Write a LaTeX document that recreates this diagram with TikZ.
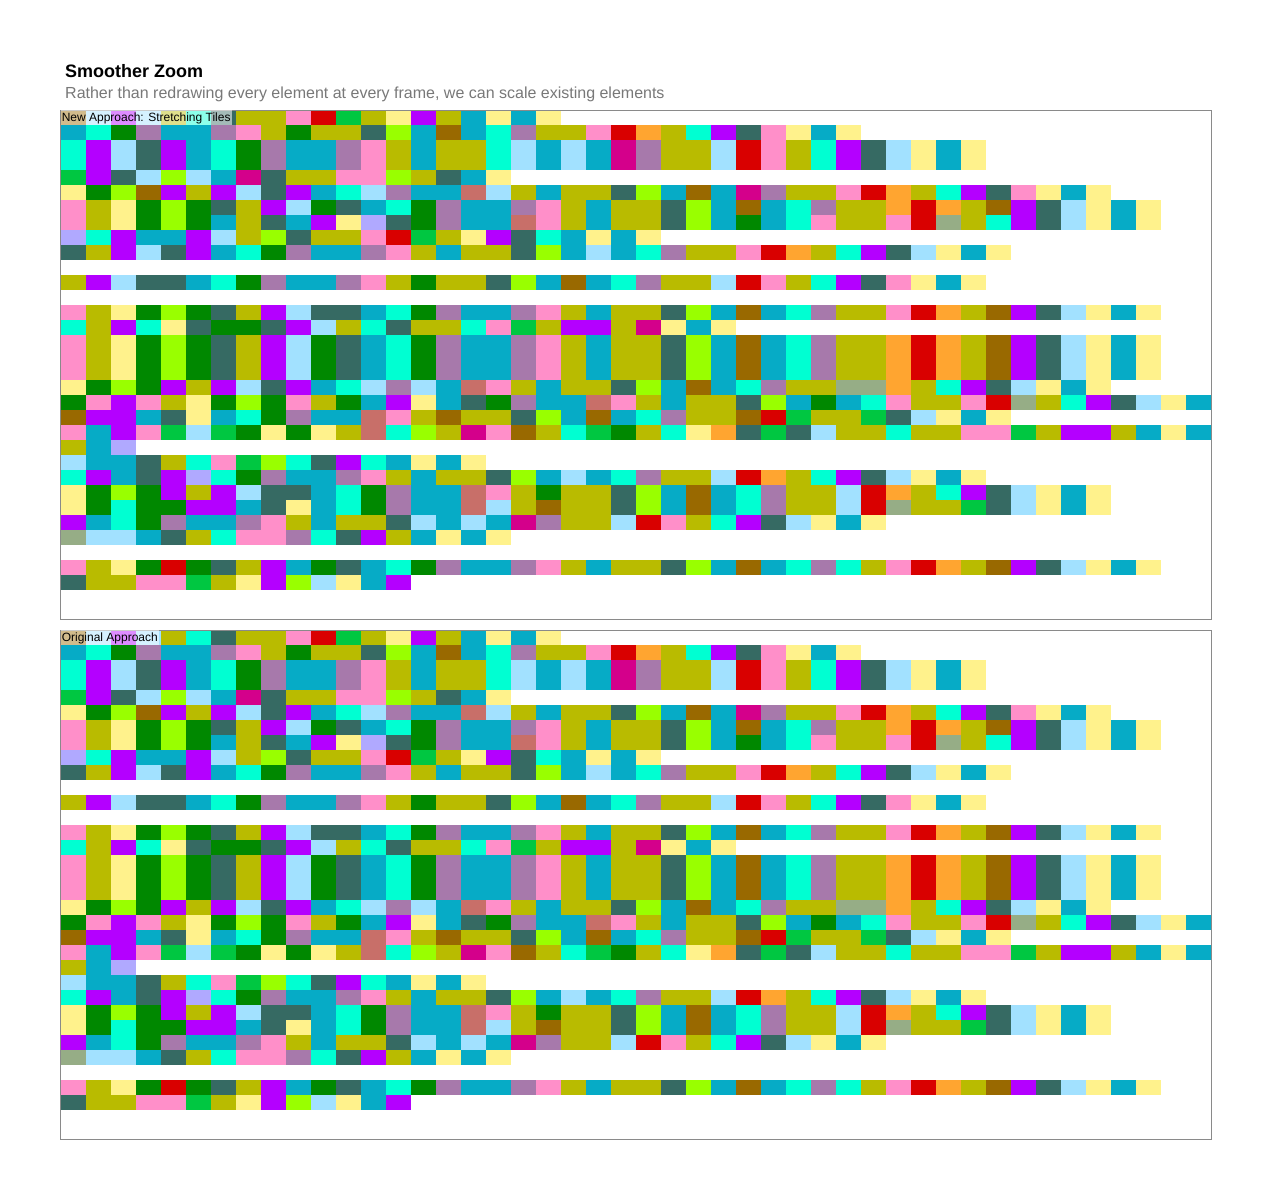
\documentclass[tikz,border=0pt]{standalone}
\usepackage{fontspec}
\setmainfont{Liberation Sans}
\definecolor{tb}{HTML}{B9BB00}
\definecolor{tc}{HTML}{06ABC6}
\definecolor{tt}{HTML}{00FFD2}
\definecolor{tg}{HTML}{008800}
\definecolor{tp}{HTML}{B400FF}
\definecolor{tl}{HTML}{A2E1FF}
\definecolor{ts}{HTML}{366A63}
\definecolor{tm}{HTML}{A779AB}
\definecolor{tk}{HTML}{FF8FC9}
\definecolor{ty}{HTML}{FFF28C}
\definecolor{tr}{HTML}{D90000}
\definecolor{te}{HTML}{00C741}
\definecolor{th}{HTML}{99FF00}
\definecolor{tn}{HTML}{996900}
\definecolor{to}{HTML}{FFA530}
\definecolor{td}{HTML}{D4008B}
\definecolor{tv}{HTML}{B0A9FF}
\definecolor{tw}{HTML}{C86F69}
\definecolor{tx}{HTML}{96AD86}
\definecolor{framegray}{HTML}{8A8A8A}
\definecolor{subgray}{HTML}{787878}
\newcommand\tilerow[2]{\foreach \cc [count=\ii from 0] in {#2} {\fill[t\cc] ({61+25*\ii},{110+15*#1}) rectangle ++(25.4,15.4);}}
\newcommand\mosaic{%
\tilerow{0}{n,l,p,l,b,t,s,b,b,k,r,e,b,y,p,b,c,y,c,y}
\tilerow{1}{c,t,g,m,c,c,m,k,b,g,b,b,s,h,c,n,c,t,m,b,b,k,r,o,b,t,p,s,k,y,c,y}
\tilerow{2}{t,p,l,s,p,c,t,g,m,c,c,m,k,b,c,b,b,t,l,c,l,c,d,m,b,b,l,r,k,b,t,p,s,l,y,c,y}
\tilerow{3}{t,p,l,s,p,c,t,g,m,c,c,m,k,b,c,b,b,t,l,c,l,c,d,m,b,b,l,r,k,b,t,p,s,l,y,c,y}
\tilerow{4}{e,p,s,l,h,l,c,d,s,b,b,k,k,h,b,s,c,y}
\tilerow{5}{y,g,h,n,p,b,p,l,s,p,c,t,l,m,c,c,w,l,b,c,b,b,s,h,c,n,c,d,m,b,b,k,r,o,b,t,p,s,k,y,c,y}
\tilerow{6}{k,b,y,g,h,g,s,b,p,l,g,s,c,t,g,m,c,c,m,k,b,c,b,b,s,h,c,n,c,t,m,b,b,o,r,o,b,n,p,s,l,y,c,y}
\tilerow{7}{k,b,y,g,h,g,c,b,s,c,p,y,v,s,g,m,c,c,w,k,b,c,b,b,s,h,c,g,c,t,k,b,b,k,r,x,b,t,p,s,l,y,c,y}
\tilerow{8}{v,t,p,c,c,p,l,b,h,s,b,b,k,r,e,b,y,p,s,t,c,y,c,y}
\tilerow{9}{s,b,p,l,s,p,c,t,g,m,c,c,m,k,b,c,b,b,s,h,c,l,c,t,m,b,b,k,r,o,b,t,p,s,l,y,c,y}
\tilerow{11}{b,p,l,s,s,c,t,g,m,c,c,m,k,b,g,b,b,s,h,c,n,c,t,m,b,b,l,r,k,b,t,p,s,k,y,c,y}
\tilerow{13}{k,b,y,g,h,g,s,b,p,l,s,s,c,t,g,m,c,c,m,k,b,c,b,b,s,h,c,n,c,t,m,b,b,k,r,o,b,n,p,s,l,y,c,y}
\tilerow{14}{t,b,p,t,y,s,g,g,s,p,l,b,t,s,b,b,t,k,e,b,p,p,b,d,y,c,y}
\tilerow{15}{k,b,y,g,h,g,s,b,p,l,g,s,c,t,g,m,c,c,m,k,b,c,b,b,s,h,c,n,c,t,m,b,b,o,r,o,b,n,p,s,l,y,c,y}
\tilerow{16}{k,b,y,g,h,g,s,b,p,l,g,s,c,t,g,m,c,c,m,k,b,c,b,b,s,h,c,n,c,t,m,b,b,o,r,o,b,n,p,s,l,y,c,y}
\tilerow{17}{k,b,y,g,h,g,s,b,p,l,g,s,c,t,g,m,c,c,m,k,b,c,b,b,s,h,c,n,c,t,m,b,b,o,r,o,b,n,p,s,l,y,c,y}
\tilerow{18}{y,g,h,g,p,b,p,l,s,p,c,t,l,m,l,c,w,k,b,c,b,b,s,h,c,n,c,t,m,b,b,x,x,o,b,t,p,s,l,y,c,y}
\tilerow{19}{g,k,p,k,b,y,g,h,g,k,b,g,c,p,y,c,s,g,m,c,c,w,k,b,c,b,b,s,h,c,g,c,t,k,b,b,k,r,x,b,t,p,s,l,y,c}
\tilerow{20}{n,p,p,c,s,y,c,t,g,m,c,c,w,k,b,n,b,b,s,h,c,n,c,t,m,b,b,n,r,e,b,b,e,s,l,y,c,y}
\tilerow{21}{k,c,p,k,e,l,e,g,y,g,y,b,w,t,h,b,d,k,n,b,t,e,g,b,t,y,o,s,e,s,l,b,b,t,b,b,k,k,e,b,p,p,b,c,y,c}
\tilerow{22}{b,c,v}
\tilerow{23}{l,c,c,s,b,t,k,e,h,t,s,p,t,c,y,c,y}
\tilerow{24}{t,p,c,s,p,v,t,g,m,c,c,m,k,b,c,b,b,s,h,c,l,c,t,m,b,b,l,r,o,b,t,p,s,l,y,c,y}
\tilerow{25}{y,g,h,g,p,b,p,l,s,s,c,t,g,m,c,c,w,k,b,g,b,b,s,h,c,n,c,t,m,b,b,l,r,o,b,t,p,s,l,y,c,y}
\tilerow{26}{y,g,t,g,g,p,p,c,s,y,c,t,g,m,c,c,w,l,b,n,b,b,s,h,c,n,c,t,m,b,b,l,r,x,b,b,e,s,l,y,c,y}
\tilerow{27}{p,c,t,g,m,c,c,m,k,b,c,b,b,s,l,c,l,c,d,m,b,b,l,r,k,b,t,p,s,l,y,c,y}
\tilerow{28}{x,l,l,c,s,b,t,k,k,m,t,s,p,b,c,y,c,y}
\tilerow{30}{k,b,y,g,r,g,s,b,p,c,g,s,c,t,g,m,c,c,m,k,b,c,b,b,s,h,c,n,c,t,m,t,b,k,r,o,b,n,p,s,l,y,c,y}
\tilerow{31}{s,b,b,k,k,e,b,y,p,h,l,y,c,p}
}
\begin{document}
\begin{tikzpicture}[x=1pt,y=-1pt,
  frame/.style={draw=framegray,line width=1pt},
  tilelabel/.style={anchor=north west,fill=white,fill opacity=0.55,text opacity=1,text=black,
    font=\fontsize{12}{14}\selectfont,inner xsep=1pt,inner ysep=0pt,minimum height=15pt},
  titletext/.style={anchor=base west,inner sep=0pt,font=\fontsize{18}{21}\selectfont\bfseries,text=black},
  subtext/.style={anchor=base west,inner sep=0pt,font=\fontsize{16}{19}\selectfont,text=subgray}]
\useasboundingbox[fill=white] (0,0) rectangle (1272,1200);
\node[titletext] (title) at (65,77) {Smoother Zoom};
\node[subtext] (subtitle) at (65,98.5) {Rather than redrawing every element at every frame, we can scale existing elements};
\begin{scope}
\mosaic
\end{scope}
\begin{scope}[yshift=-520pt]
\mosaic
\end{scope}
\draw[frame] (60.5,110) rectangle (1211.5,619);
\draw[frame] (60.5,630) rectangle (1211.5,1139);
\node[tilelabel] (newlabel) at (60.6,110.2) {New Approach: Stretching Tiles};
\node[tilelabel] (origlabel) at (60.6,630.2) {Original Approach};
\end{tikzpicture}
\end{document}
